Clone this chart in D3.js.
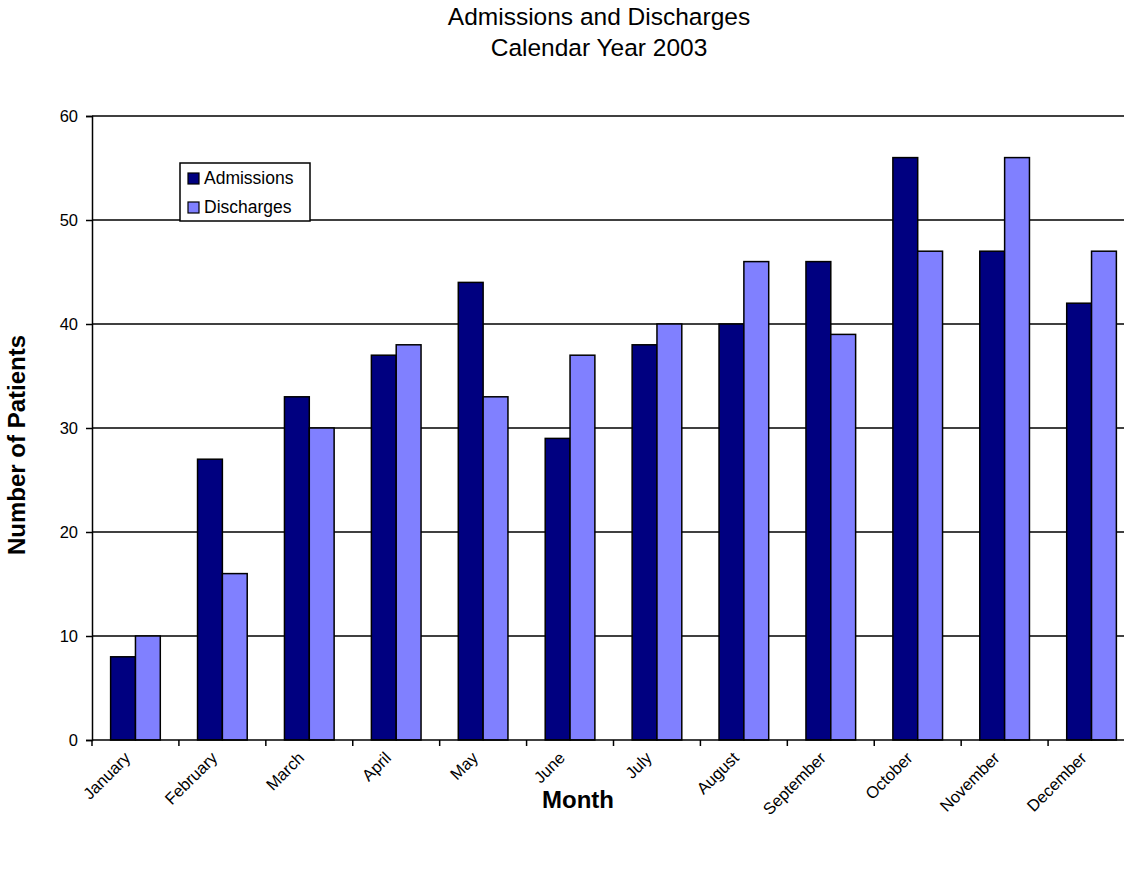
<!DOCTYPE html>
<html>
<head>
<meta charset="utf-8">
<script src="https://cdn.jsdelivr.net/npm/d3@7"></script>
<style>
  body { margin: 0; background: #fff; }
  text { font-family: "Liberation Sans", Arial, sans-serif; }
</style>
</head>
<body>
<svg id="chart" width="1124" height="869"></svg>
<script>
var months = ['January', 'February', 'March', 'April', 'May', 'June',
              'July', 'August', 'September', 'October', 'November', 'December'];
var admissions = [8, 27, 33, 37, 44, 29, 38, 40, 46, 56, 47, 42];
var discharges = [10, 16, 30, 38, 33, 37, 40, 46, 39, 47, 56, 47];
var seriesNames = ['Admissions', 'Discharges'];
var yTicks = [0, 10, 20, 30, 40, 50, 60];

var colors = ['#000080', '#8080ff'];
var plotLeft = 92, plotTop = 116, plotBottom = 740, plotRight = 1135;

var svg = d3.select('#chart');

var x = d3.scaleBand().domain(months).range([plotLeft, plotRight]);
var xInner = d3.scaleBand().domain(seriesNames)
    .range([0, x.bandwidth()]).paddingOuter(0.75);
var y = d3.scaleLinear().domain([0, 60]).range([plotBottom, plotTop]);

// gridlines
svg.append('g').selectAll('line')
    .data(yTicks.slice(1))
  .enter().append('line')
    .attr('x1', plotLeft).attr('x2', plotRight)
    .attr('y1', function(d) { return y(d); })
    .attr('y2', function(d) { return y(d); })
    .attr('stroke', '#000').attr('stroke-width', 1.5);

// bars
var series = [admissions, discharges];
seriesNames.forEach(function(name, s) {
  svg.append('g').selectAll('rect')
      .data(series[s])
    .enter().append('rect')
      .attr('x', function(d, i) { return x(months[i]) + xInner(name); })
      .attr('y', function(d) { return y(d); })
      .attr('width', xInner.bandwidth())
      .attr('height', function(d) { return y(0) - y(d); })
      .attr('fill', colors[s])
      .attr('stroke', '#000').attr('stroke-width', 1.5);
});

// y axis
var yAxis = svg.append('g')
    .attr('transform', 'translate(' + plotLeft + ',0)')
    .call(d3.axisLeft(y).tickValues(yTicks).tickSize(6).tickPadding(8));
yAxis.select('.domain').attr('stroke-width', 1.5);
yAxis.selectAll('.tick line').attr('stroke-width', 1.5);
yAxis.selectAll('text').attr('font-size', 16.5).attr('fill', '#000')
    .style('font-family', '"Liberation Sans", Arial, sans-serif');

// x axis (ticks at category boundaries)
var xAxis = svg.append('g')
    .attr('transform', 'translate(0,' + plotBottom + ')');
xAxis.append('line')
    .attr('x1', plotLeft).attr('x2', plotRight)
    .attr('stroke', '#000').attr('stroke-width', 1.5);
xAxis.selectAll('line.tk')
    .data(months)
  .enter().append('line')
    .attr('class', 'tk')
    .attr('x1', function(d) { return x(d); })
    .attr('x2', function(d) { return x(d); })
    .attr('y1', 0).attr('y2', 6)
    .attr('stroke', '#000').attr('stroke-width', 1.5);
xAxis.selectAll('text')
    .data(months)
  .enter().append('text')
    .attr('transform', function(d) {
      return 'translate(' + (x(d) + x.bandwidth() / 2 - 4) + ',19) rotate(-45)';
    })
    .attr('text-anchor', 'end')
    .attr('font-size', 16.5)
    .text(function(d) { return d; });

// titles
svg.append('text').attr('x', 599).attr('y', 25)
    .attr('text-anchor', 'middle').attr('font-size', 24.5)
    .text('Admissions and Discharges');
svg.append('text').attr('x', 599).attr('y', 56)
    .attr('text-anchor', 'middle').attr('font-size', 24.5)
    .text('Calendar Year 2003');

svg.append('text').attr('x', 578).attr('y', 808)
    .attr('text-anchor', 'middle').attr('font-size', 24)
    .attr('font-weight', 'bold').text('Month');
svg.append('text')
    .attr('transform', 'translate(25,445) rotate(-90)')
    .attr('text-anchor', 'middle').attr('font-size', 24)
    .attr('font-weight', 'bold').text('Number of Patients');

// legend
var legend = svg.append('g').attr('transform', 'translate(180,163)');
legend.append('rect')
    .attr('width', 130).attr('height', 58)
    .attr('fill', '#fff').attr('stroke', '#000').attr('stroke-width', 1.5);
seriesNames.forEach(function(name, i) {
  var g = legend.append('g').attr('transform', 'translate(8,' + (10 + i * 29) + ')');
  g.append('rect').attr('width', 11).attr('height', 11)
      .attr('fill', colors[i]).attr('stroke', '#000').attr('stroke-width', 1.2);
  g.append('text').attr('x', 16).attr('y', 11)
      .attr('font-size', 17.5).text(name);
});
</script>
</body>
</html>
